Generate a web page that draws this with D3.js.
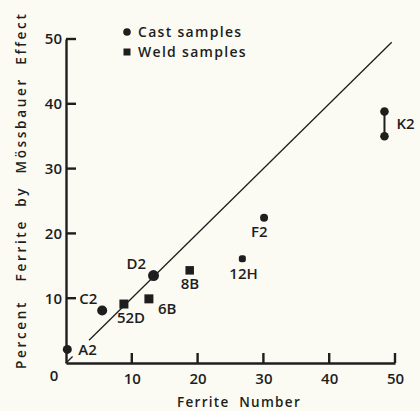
<!DOCTYPE html>
<html><head><meta charset="utf-8">
<script src="https://cdn.jsdelivr.net/npm/d3@7"></script>
<style>
html,body{margin:0;padding:0;background:#fbfbf3;}
svg{display:block;}
text{font-family:"Open Sans",sans-serif;font-weight:600;fill:#1e1e1e;}
</style></head>
<body>
<script>
// Data
const castNames = ["A2","C2","D2","F2"];
const castX = [0.2, 5.5, 13.3, 30.1];
const castY = [2.1, 8.1, 13.5, 22.4];
const k2X = [48.4, 48.4];
const k2Y = [38.8, 35.0];
const weldNames = ["52D","6B","8B","12H"];
const weldX = [8.8, 12.6, 18.8, 26.8];
const weldY = [9.1, 9.9, 14.3, 16.1];
const xTicks = [10,20,30,40,50];
const yTicks = [10,20,30,40,50];
const refLine = [[0,0],[1,1],[3.5,3.5],[49.5,49.5]];

const W=420,H=411;
const svg=d3.select("body").append("svg").attr("width",W).attr("height",H);
svg.append("rect").attr("width",W).attr("height",H).attr("fill","#fbfbf3");

const x=d3.scaleLinear().domain([0,50]).range([66,395]);
const y=d3.scaleLinear().domain([0,50]).range([363,39]);
const ink="#1e1e1e";
const FF="Open Sans";

// axes (labels + domain)
const xAxis=d3.axisBottom(x).tickValues(xTicks).tickSize(0).tickPadding(10);
const gx=svg.append("g").attr("transform",`translate(0,${y(0)})`).call(xAxis);
gx.select(".domain").attr("stroke",ink).attr("stroke-width",2.4);
gx.selectAll(".tick text").attr("font-size",15).attr("fill",ink).attr("font-family",FF).attr("font-weight",600);

const yAxis=d3.axisLeft(y).tickValues(yTicks).tickSize(0).tickPadding(4);
const gy=svg.append("g").attr("transform",`translate(${x(0)},0)`).call(yAxis);
gy.select(".domain").attr("stroke",ink).attr("stroke-width",2.4);
gy.selectAll(".tick text").attr("font-size",15).attr("fill",ink).attr("font-family",FF).attr("font-weight",600);

// inward tick marks
svg.append("g").selectAll("rect").data(xTicks).enter().append("rect")
  .attr("x",d=>x(d)-1.2).attr("width",2.4).attr("y",y(0)-10).attr("height",10)
  .attr("fill",ink);
svg.append("g").selectAll("rect").data(yTicks).enter().append("rect")
  .attr("x",x(0)).attr("width",10).attr("y",d=>y(d)-1.2).attr("height",2.4)
  .attr("fill",ink);

// origin label
svg.append("text").attr("x",x(0)-12).attr("y",y(0)+18).attr("text-anchor","middle").attr("font-size",15).text("0");

// reference line y = x
const ln=d3.line().x(d=>x(d[0])).y(d=>y(d[1]));
svg.append("path").datum(refLine.slice(0,2)).attr("d",ln).attr("stroke",ink).attr("stroke-width",1.3).attr("fill","none");
svg.append("path").datum(refLine.slice(2)).attr("d",ln).attr("stroke",ink).attr("stroke-width",1.3).attr("fill","none");

// K2 connector
svg.append("line").attr("x1",x(k2X[0])).attr("x2",x(k2X[1])).attr("y1",y(k2Y[0])).attr("y2",y(k2Y[1]))
  .attr("stroke",ink).attr("stroke-width",2);

// cast points
const castR=[4.5,5,5.5,4];
svg.selectAll("circle.cast").data(castX).enter().append("circle")
  .attr("cx",(d,i)=>x(d)).attr("cy",(d,i)=>y(castY[i])).attr("r",(d,i)=>castR[i]).attr("fill",ink);
svg.selectAll("circle.k2").data(k2X).enter().append("circle")
  .attr("cx",(d,i)=>x(d)).attr("cy",(d,i)=>y(k2Y[i])).attr("r",4.3).attr("fill",ink);

// weld points
const weldS=[9,9,8.5,7];
svg.selectAll("rect.weld").data(weldX).enter().append("rect")
  .attr("x",(d,i)=>x(d)-weldS[i]/2).attr("y",(d,i)=>y(weldY[i])-weldS[i]/2)
  .attr("width",(d,i)=>weldS[i]).attr("height",(d,i)=>weldS[i]).attr("rx",(d,i)=>i==3?2.5:0).attr("fill",ink);

// point labels (offsets relative to point)
const castLab=[[11,6],[-23,-7],[-27,-7],[-13,19]];
castNames.forEach((n,i)=>{
  svg.append("text").attr("x",x(castX[i])+castLab[i][0]).attr("y",y(castY[i])+castLab[i][1])
    .attr("font-size",15).text(n);
});
svg.append("text").attr("x",x(k2X[0])+12).attr("y",y((k2Y[0]+k2Y[1])/2)+5)
  .attr("font-size",15).text("K2");
const weldLab=[[-7,19],[9,15],[-9,19],[-13,20]];
weldNames.forEach((n,i)=>{
  svg.append("text").attr("x",x(weldX[i])+weldLab[i][0]).attr("y",y(weldY[i])+weldLab[i][1])
    .attr("font-size",15).text(n);
});

// legend
svg.append("circle").attr("cx",127).attr("cy",32).attr("r",3.8).attr("fill",ink);
svg.append("text").attr("x",138).attr("y",37).attr("font-size",14).attr("letter-spacing",1.3).text("Cast samples");
svg.append("rect").attr("x",123.5).attr("y",48.5).attr("width",7).attr("height",7).attr("fill",ink);
svg.append("text").attr("x",138).attr("y",57).attr("font-size",14).attr("letter-spacing",1.3).text("Weld samples");

// axis titles
svg.append("text").attr("x",239).attr("y",407).attr("text-anchor","middle").attr("font-size",13.5)
  .attr("letter-spacing",1.3).attr("xml:space","preserve").text("Ferrite  Number");
svg.append("text").attr("transform","translate(26,191) rotate(-90)").attr("text-anchor","middle")
  .attr("font-size",13.5).attr("letter-spacing",1.2).attr("xml:space","preserve")
  .attr("textLength",356).attr("lengthAdjust","spacing")
  .text("Percent   Ferrite  by  Mössbauer  Effect");
</script>
</body></html>
